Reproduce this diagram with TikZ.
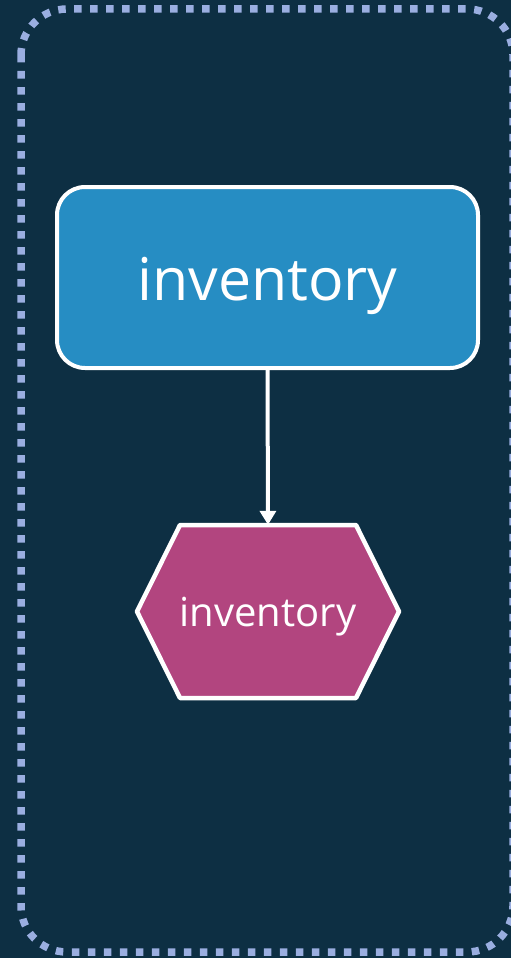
\documentclass[tikz,border=0pt]{standalone}
\usepackage{fontspec}
\setmainfont{Open Sans}
\usetikzlibrary{arrows.meta}
\definecolor{bgnavy}{HTML}{0D2F43}
\definecolor{dotblue}{HTML}{9AAEE0}
\definecolor{boxblue}{HTML}{268DC3}
\definecolor{hexpink}{HTML}{B2457F}
\tikzset{
  bigbox/.style={draw=white, line width=4pt, fill=boxblue, rounded corners=28pt,
    minimum width=421pt, minimum height=181pt, inner sep=0pt, text=white, text depth=0pt,
    font=\fontsize{59}{62}\selectfont},
  hexlabel/.style={draw=none, minimum width=262pt, minimum height=173pt, inner sep=0pt,
    text=white, text depth=0pt, font=\fontsize{40}{44}\selectfont},
  hexshape/.style={draw=white, line width=4.5pt, fill=hexpink, line join=round},
  flow/.style={draw=white, line width=4pt, -{Triangle[length=14pt,width=16pt]}},
  frame/.style={draw=dotblue, line width=7.5pt, dash pattern=on 7.5pt off 8.5pt, rounded corners=46pt}
}
\begin{document}
\begin{tikzpicture}[x=1pt,y=-1pt]
  \fill[bgnavy] (0,0) rectangle (511,958);
  \useasboundingbox (0,0) rectangle (511,958);
  \draw[frame] (21,9) rectangle (513,952);
  \node[bigbox] (inv) at (267.5,277.5) {\raisebox{-3pt}{inventory}};
  \coordinate (hc) at (268,611.5);
  \draw[hexshape] (180,525) -- (356,525) -- (399,611.5) -- (356,698) -- (180,698) -- (137,611.5) -- cycle;
  \node[hexlabel] (hex) at (hc) {\raisebox{-1pt}{inventory}};
  \draw[flow] (inv.south) -- (hex.north);
\end{tikzpicture}
\end{document}
